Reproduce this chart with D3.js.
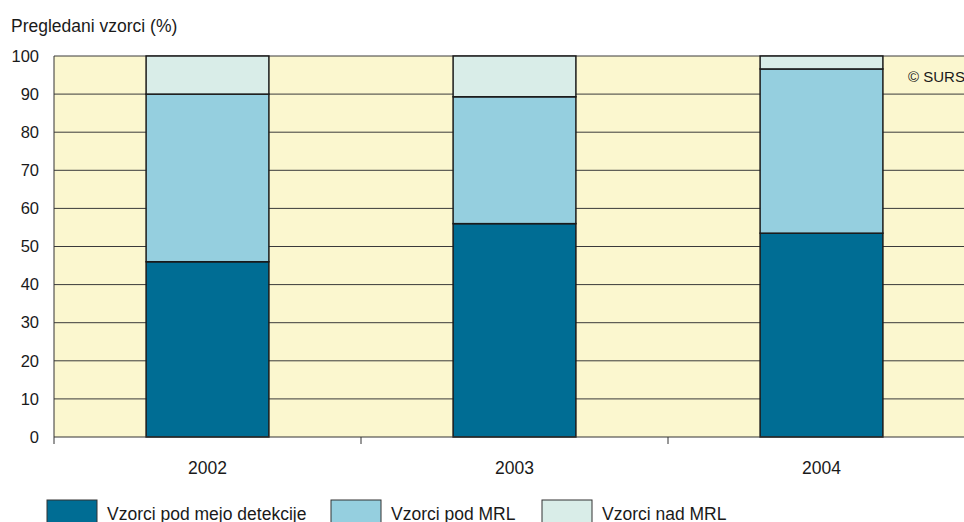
<!DOCTYPE html>
<html>
<head>
<meta charset="utf-8">
<script src="https://cdn.jsdelivr.net/npm/d3@7.9.0/dist/d3.min.js"></script>
<style>
  body { margin: 0; background: #fff; }
  svg { display: block; font-family: "Liberation Sans", Arial, sans-serif; }
</style>
</head>
<body>
<svg id="chart" width="964" height="522"></svg>
<script>
// data
const years = ['2002', '2003', '2004'];
const seriesNames = ['Vzorci pod mejo detekcije', 'Vzorci pod MRL', 'Vzorci nad MRL'];
const belowDetection = [46, 56, 53.5];
const belowMRL = [44, 33.3, 43.1];
const aboveMRL = [10, 10.7, 3.4];
const yTicks = [0, 10, 20, 30, 40, 50, 60, 70, 80, 90, 100];
const colors = ['#006d94', '#95cfdf', '#d9ede8'];

const rows = years.map((y, i) => ({
  year: y,
  [seriesNames[0]]: belowDetection[i],
  [seriesNames[1]]: belowMRL[i],
  [seriesNames[2]]: aboveMRL[i]
}));

const svg = d3.select('#chart');
const margin = { top: 56, left: 54 };
const innerHeight = 381;
const innerWidth = 921;

const g = svg.append('g')
  .attr('transform', `translate(${margin.left}, ${margin.top})`);

const x = d3.scaleBand()
  .domain(years)
  .range([0, innerWidth])
  .paddingInner(0.6)
  .paddingOuter(0.3);

// band boundaries for the category tick marks
const step = innerWidth / years.length;

const y = d3.scaleLinear()
  .domain([0, 100])
  .range([innerHeight, 0]);

// plot background
g.append('rect')
  .attr('width', innerWidth)
  .attr('height', innerHeight)
  .attr('fill', '#fbf7cf');

// grid lines
g.selectAll('.grid')
  .data(yTicks.filter(d => d > 0))
  .join('line')
  .attr('class', 'grid')
  .attr('x1', 0)
  .attr('x2', innerWidth)
  .attr('y1', d => y(d))
  .attr('y2', d => y(d))
  .attr('stroke', '#3a3a3a')
  .attr('stroke-width', 1);

// stacked bars
const stack = d3.stack().keys(seriesNames);
const stacked = stack(rows);

g.selectAll('.layer')
  .data(stacked)
  .join('g')
  .attr('class', 'layer')
  .attr('fill', (d, i) => colors[i])
  .selectAll('rect')
  .data(d => d)
  .join('rect')
  .attr('x', d => x(d.data.year))
  .attr('y', d => y(d[1]))
  .attr('width', x.bandwidth())
  .attr('height', d => y(d[0]) - y(d[1]))
  .attr('stroke', '#1a1a1a')
  .attr('stroke-width', 1.5);

// left axis line
g.append('line')
  .attr('x1', 0).attr('x2', 0)
  .attr('y1', 0).attr('y2', innerHeight + 7)
  .attr('stroke', '#333')
  .attr('stroke-width', 1);

// bottom axis line
g.append('line')
  .attr('x1', 0).attr('x2', innerWidth)
  .attr('y1', innerHeight).attr('y2', innerHeight)
  .attr('stroke', '#333')
  .attr('stroke-width', 1);

// category separator ticks
g.selectAll('.xtick')
  .data(d3.range(1, years.length))
  .join('line')
  .attr('class', 'xtick')
  .attr('x1', d => d * step)
  .attr('x2', d => d * step)
  .attr('y1', innerHeight)
  .attr('y2', innerHeight + 7)
  .attr('stroke', '#333');

// y tick labels
g.selectAll('.ylab')
  .data(yTicks)
  .join('text')
  .attr('class', 'ylab')
  .attr('x', -15)
  .attr('y', d => y(d))
  .attr('dy', '0.35em')
  .attr('text-anchor', 'end')
  .attr('font-size', 16.5)
  .attr('fill', '#1a1a1a')
  .text(d => d);

// x labels
g.selectAll('.xlab')
  .data(years)
  .join('text')
  .attr('class', 'xlab')
  .attr('x', d => x(d) + x.bandwidth() / 2)
  .attr('y', innerHeight + 37)
  .attr('text-anchor', 'middle')
  .attr('font-size', 17.5)
  .attr('fill', '#1a1a1a')
  .text(d => d);

// y title
svg.append('text')
  .attr('x', 11)
  .attr('y', 32)
  .attr('font-size', 17.5)
  .attr('fill', '#1a1a1a')
  .text('Pregledani vzorci (%)');

// copyright
svg.append('text')
  .attr('x', 908)
  .attr('y', 82)
  .attr('font-size', 15)
  .attr('fill', '#1a1a1a')
  .text('© SURS');

// legend
const legendX = [47, 331, 542];
const legend = svg.selectAll('.legend')
  .data(seriesNames)
  .join('g')
  .attr('class', 'legend')
  .attr('transform', (d, i) => `translate(${legendX[i]}, 500)`);

legend.append('rect')
  .attr('width', 50)
  .attr('height', 24)
  .attr('fill', (d, i) => colors[i])
  .attr('stroke', '#333')
  .attr('stroke-width', 1);

legend.append('text')
  .attr('x', 60)
  .attr('y', 20)
  .attr('font-size', 17.5)
  .attr('fill', '#1a1a1a')
  .text(d => d);
</script>
</body>
</html>
